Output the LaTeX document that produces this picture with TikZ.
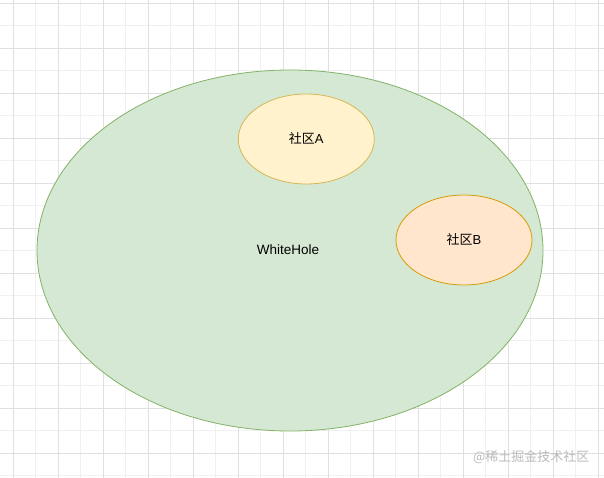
\documentclass[tikz,border=0pt]{standalone}
\usepackage{fontspec}
\setmainfont{Liberation Sans}
\newfontfamily\cjk{Noto Sans CJK SC}
\usetikzlibrary{shapes.geometric}
\definecolor{gfill}{HTML}{D5E8D4}
\definecolor{gline}{HTML}{82B366}
\definecolor{afill}{HTML}{FFF2CC}
\definecolor{aline}{HTML}{D6B656}
\definecolor{bfill}{HTML}{FFE6CC}
\definecolor{bline}{HTML}{D79B00}
\definecolor{minorgrid}{HTML}{F0F0F0}
\definecolor{majorgrid}{HTML}{E0E0E0}
\definecolor{wm}{HTML}{BBBBBB}
\tikzset{
  blob/.style={ellipse, draw, line width=0.8pt, inner sep=0pt, font=\fontsize{13}{15}\selectfont},
}
\begin{document}
\begin{tikzpicture}[x=1pt,y=-1pt]
\useasboundingbox (0,0) rectangle (604,478);
\fill[white] (0,0) rectangle (604,478);
% minor grid
\foreach \i in {0,...,27} {
  \draw[minorgrid, line width=0.7pt] ({13.3+22.5*\i-22.5},0) -- ({13.3+22.5*\i-22.5},478);
}
\foreach \i in {0,...,22} {
  \draw[minorgrid, line width=0.7pt] (0,{3.3+22.5*\i}) -- (604,{3.3+22.5*\i});
}
% major grid
\foreach \i in {0,...,13} {
  \draw[majorgrid, line width=0.7pt] ({13.3+45*\i},0) -- ({13.3+45*\i},478);
}
\foreach \i in {0,...,10} {
  \draw[majorgrid, line width=0.7pt] (0,{3.3+45*\i}) -- (604,{3.3+45*\i});
}
\node[blob, fill=gfill, draw=gline, minimum width=506pt, minimum height=361pt] (wh) at (290,250.5) {};
\node[font=\fontsize{13.5}{15}\selectfont] (whl) at (288,250) {WhiteHole};
\node[blob, fill=afill, draw=aline, minimum width=136pt, minimum height=90pt] (a) at (306.3,139) {{\cjk 社区}A};
\node[blob, fill=bfill, draw=bline, minimum width=136pt, minimum height=90pt] (b) at (464,240) {{\cjk 社区}B};
\node[anchor=east, text=wm, font=\cjk\fontsize{13}{15}\selectfont] (wmk) at (593,457) {@稀土掘金技术社区};
\end{tikzpicture}
\end{document}
